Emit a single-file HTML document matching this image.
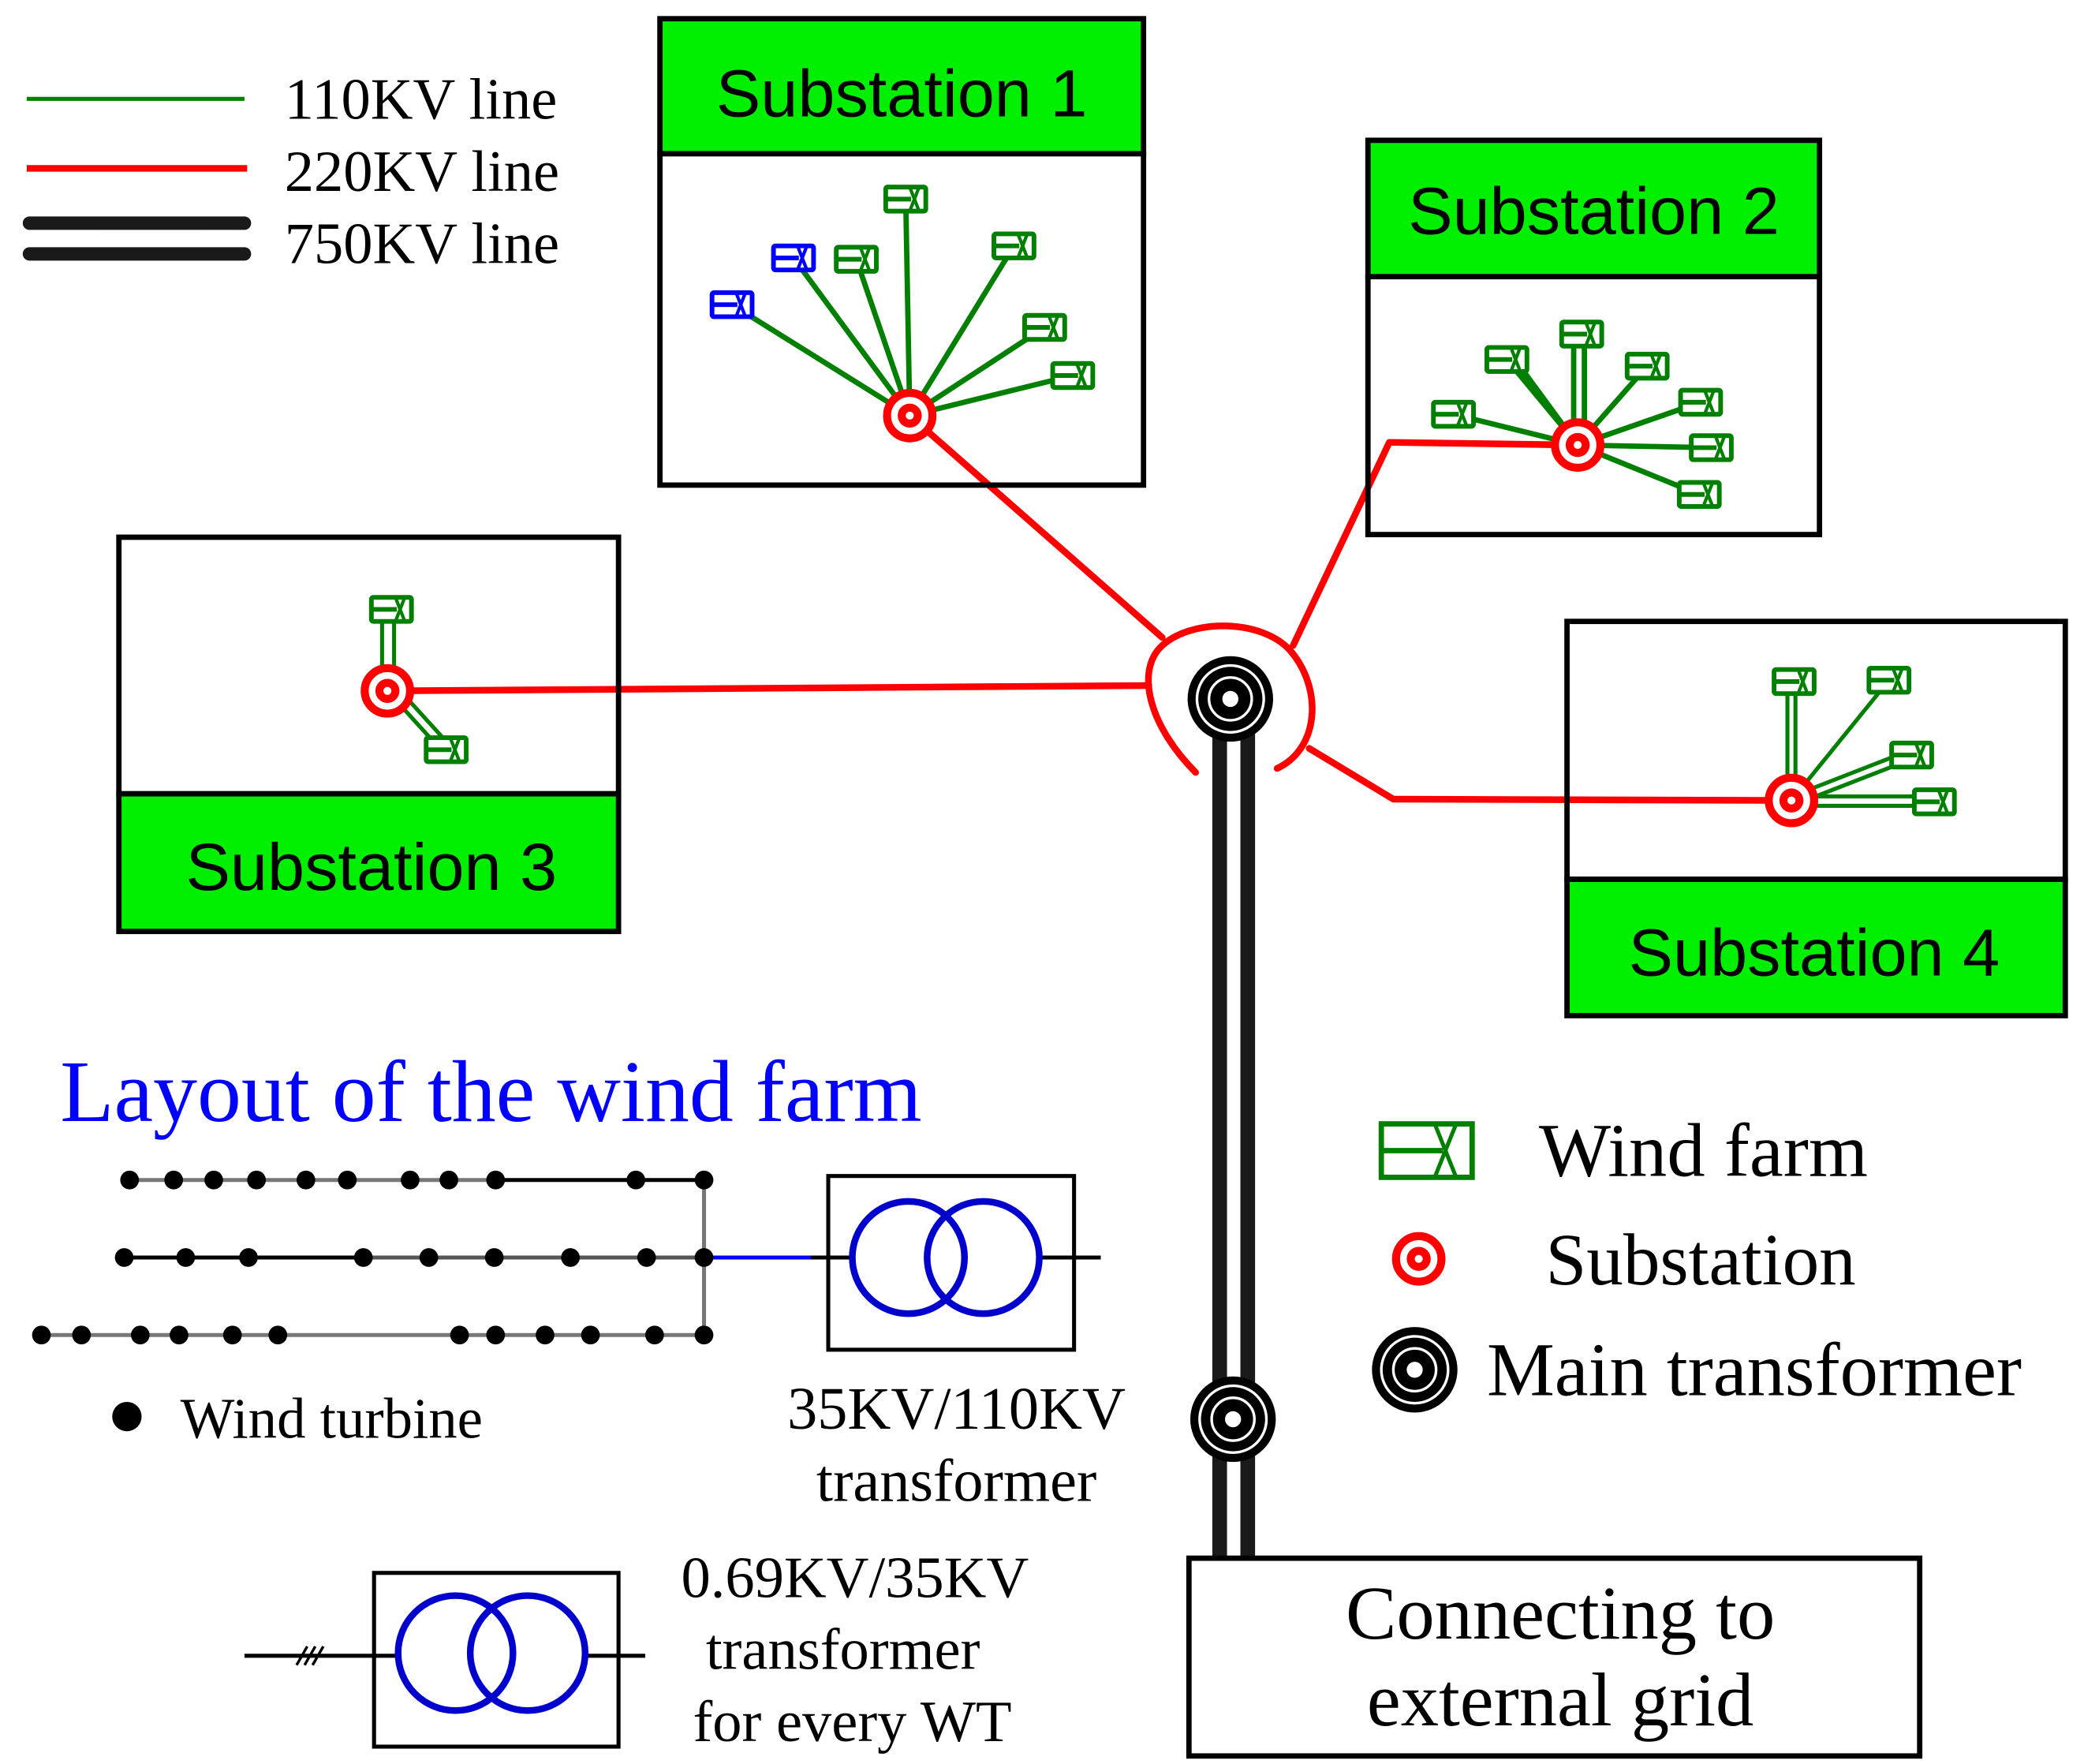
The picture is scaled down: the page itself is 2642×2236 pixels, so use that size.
<!DOCTYPE html>
<html><head><meta charset="utf-8"><style>
html,body{margin:0;padding:0;background:#fff;}
svg{display:block;}
.serif{font-family:"Liberation Serif",serif;}
.sans{font-family:"Liberation Sans",sans-serif;}
</style></head><body>
<svg width="2642" height="2236" viewBox="0 0 1560 1320" preserveAspectRatio="none" xmlns="http://www.w3.org/2000/svg">
<defs>
<g id="wf">
  <rect x="-15" y="-9" width="30" height="18" fill="#fff" stroke="#007f00" stroke-width="3.5" rx="1.5"/>
  <line x1="-15" y1="0" x2="4" y2="0" stroke="#007f00" stroke-width="3.5"/>
  <line x1="3" y1="-9" x2="10" y2="9" stroke="#007f00" stroke-width="2.5"/>
  <line x1="10" y1="-9" x2="3" y2="9" stroke="#007f00" stroke-width="2.5"/>
</g>
<g id="wfb">
  <rect x="-15" y="-9" width="30" height="18" fill="#fff" stroke="#0000ff" stroke-width="3.5" rx="1.5"/>
  <line x1="-15" y1="0" x2="4" y2="0" stroke="#0000ff" stroke-width="3.5"/>
  <line x1="3" y1="-9" x2="10" y2="9" stroke="#0000ff" stroke-width="2.5"/>
  <line x1="10" y1="-9" x2="3" y2="9" stroke="#0000ff" stroke-width="2.5"/>
</g>
<g id="sub">
  <circle r="17" fill="#fff" stroke="#ff0000" stroke-width="6"/>
  <circle r="9" fill="#ff0000"/>
  <circle r="3" fill="#fff"/>
</g>
<g id="mt">
  <circle r="32" fill="#000"/>
  <circle r="25" fill="none" stroke="#fff" stroke-width="2"/>
  <circle r="16" fill="none" stroke="#fff" stroke-width="2"/>
  <circle r="6" fill="#fff"/>
</g>
</defs>

<!-- legend -->
<line x1="20" y1="74" x2="183" y2="74" stroke="#007f00" stroke-width="3"/>
<line x1="20" y1="126" x2="185" y2="126" stroke="#ff0000" stroke-width="5"/>
<line x1="22" y1="167" x2="183" y2="167" stroke="#1a1a1a" stroke-width="10" stroke-linecap="round"/>
<line x1="22" y1="190" x2="183" y2="190" stroke="#1a1a1a" stroke-width="10" stroke-linecap="round"/>
<g class="serif" font-size="44" fill="#000">
<text x="213" y="89">110KV line</text>
<text x="213" y="143">220KV line</text>
<text x="213" y="197">750KV line</text>
</g>

<!-- 750 kV lines -->
<line x1="913" y1="545" x2="913" y2="1166" stroke="#1a1a1a" stroke-width="11"/>
<line x1="934" y1="545" x2="934" y2="1166" stroke="#1a1a1a" stroke-width="11"/>

<!-- red lines -->
<g stroke="#ff0000" stroke-width="5" fill="none" stroke-linecap="round" stroke-linejoin="round">
<line x1="681" y1="311" x2="870" y2="477"/>
<polyline points="1181,333 1040,331 968,483"/>
<line x1="290" y1="517" x2="860" y2="513"/>
<polyline points="1341,599 1043,598 980,560"/>
<path d="M895,578 C862,545 850,505 868,485 C890,462 945,463 966,487 C990,515 988,560 956,575"/>
</g>

<!-- Substation 1 -->
<rect x="494" y="115" width="362" height="248" fill="none" stroke="#000" stroke-width="4"/>
<rect x="494" y="14" width="362" height="101" fill="#00ee00" stroke="#000" stroke-width="4"/>
<text x="675" y="87" class="sans" font-size="50" text-anchor="middle">Substation 1</text>
<g stroke="#007f00" stroke-width="4">
<line x1="681" y1="311" x2="548" y2="228"/><line x1="681" y1="311" x2="594" y2="193"/>
<line x1="681" y1="311" x2="641" y2="194"/><line x1="681" y1="311" x2="678" y2="149"/>
<line x1="681" y1="311" x2="759" y2="184"/><line x1="681" y1="311" x2="782" y2="245"/>
<line x1="681" y1="311" x2="803" y2="281"/>
</g>
<use href="#wfb" x="548" y="228"/><use href="#wfb" x="594" y="193"/>
<use href="#wf" x="641" y="194"/><use href="#wf" x="678" y="149"/>
<use href="#wf" x="759" y="184"/><use href="#wf" x="782" y="245"/><use href="#wf" x="803" y="281"/>
<use href="#sub" x="681" y="311"/>

<!-- Substation 2 -->
<rect x="1024" y="207" width="338" height="193" fill="none" stroke="#000" stroke-width="4"/>
<rect x="1024" y="105" width="338" height="102" fill="#00ee00" stroke="#000" stroke-width="4"/>
<text x="1193" y="175" class="sans" font-size="50" text-anchor="middle">Substation 2</text>
<g stroke="#007f00" stroke-width="4">
<line x1="1181" y1="333" x2="1088" y2="310"/><line x1="1181" y1="333" x2="1128" y2="269"/>
<line x1="1181" y1="333" x2="1134" y2="269"/>
<line x1="1178" y1="333" x2="1178" y2="250"/><line x1="1186" y1="333" x2="1186" y2="250"/>
<line x1="1181" y1="333" x2="1233" y2="274"/><line x1="1181" y1="333" x2="1273" y2="301"/>
<line x1="1181" y1="333" x2="1281" y2="335"/><line x1="1181" y1="333" x2="1272" y2="370"/>
</g>
<use href="#wf" x="1088" y="310"/><use href="#wf" x="1128" y="269"/><use href="#wf" x="1184" y="250"/>
<use href="#wf" x="1233" y="274"/><use href="#wf" x="1273" y="301"/><use href="#wf" x="1281" y="335"/>
<use href="#wf" x="1272" y="370"/>
<use href="#sub" x="1181" y="333"/>

<!-- Substation 3 -->
<rect x="89" y="402" width="374" height="192" fill="none" stroke="#000" stroke-width="4"/>
<rect x="89" y="594" width="374" height="103" fill="#00ee00" stroke="#000" stroke-width="4"/>
<text x="278" y="666" class="sans" font-size="50" text-anchor="middle">Substation 3</text>
<g stroke="#007f00" stroke-width="3">
<line x1="286" y1="517" x2="286" y2="456"/><line x1="295" y1="517" x2="295" y2="456"/>
<line x1="290" y1="517" x2="330" y2="561"/><line x1="296" y1="513" x2="336" y2="557"/>
</g>
<use href="#wf" x="293" y="456"/><use href="#wf" x="334" y="561"/>
<use href="#sub" x="290" y="517"/>

<!-- Substation 4 -->
<rect x="1173" y="465" width="373" height="193" fill="none" stroke="#000" stroke-width="4"/>
<rect x="1173" y="658" width="373" height="102" fill="#00ee00" stroke="#000" stroke-width="4"/>
<text x="1358" y="730" class="sans" font-size="50" text-anchor="middle">Substation 4</text>
<g stroke="#007f00" stroke-width="3">
<line x1="1338" y1="599" x2="1338" y2="510"/><line x1="1344" y1="599" x2="1344" y2="510"/>
<line x1="1341" y1="599" x2="1414" y2="509"/>
<line x1="1341" y1="596" x2="1431" y2="561"/><line x1="1341" y1="603" x2="1431" y2="568"/>
<line x1="1341" y1="596" x2="1448" y2="596"/><line x1="1341" y1="603" x2="1448" y2="603"/>
</g>
<use href="#wf" x="1343" y="510"/><use href="#wf" x="1414" y="509"/>
<use href="#wf" x="1431" y="565"/><use href="#wf" x="1448" y="600"/>
<use href="#sub" x="1341" y="599"/>

<!-- main transformers -->
<use href="#mt" x="921" y="523"/>
<use href="#mt" x="923" y="1062"/>

<!-- wind farm layout -->
<text x="45" y="839" class="serif" font-size="66" fill="#0000ff">Layout of the wind farm</text>
<g stroke-width="3">
<line x1="97" y1="883" x2="371" y2="883" stroke="#777"/>
<line x1="371" y1="883" x2="527" y2="883" stroke="#000"/>
<line x1="93" y1="941" x2="272" y2="941" stroke="#000"/>
<line x1="272" y1="941" x2="527" y2="941" stroke="#555"/>
<line x1="31" y1="999" x2="527" y2="999" stroke="#777"/>
<line x1="527" y1="883" x2="527" y2="999" stroke="#777"/>
<line x1="527" y1="941" x2="607" y2="941" stroke="#0000ff"/>
<line x1="607" y1="941" x2="640" y2="941" stroke="#000"/>
<line x1="778" y1="941" x2="824" y2="941" stroke="#000"/>
</g>
<g fill="#000">
<circle cx="97" cy="883" r="7"/><circle cx="130" cy="883" r="7"/><circle cx="160" cy="883" r="7"/><circle cx="192" cy="883" r="7"/><circle cx="229" cy="883" r="7"/><circle cx="260" cy="883" r="7"/><circle cx="307" cy="883" r="7"/><circle cx="336" cy="883" r="7"/><circle cx="371" cy="883" r="7"/><circle cx="476" cy="883" r="7"/><circle cx="527" cy="883" r="7"/>
<circle cx="93" cy="941" r="7"/><circle cx="139" cy="941" r="7"/><circle cx="186" cy="941" r="7"/><circle cx="272" cy="941" r="7"/><circle cx="321" cy="941" r="7"/><circle cx="370" cy="941" r="7"/><circle cx="427" cy="941" r="7"/><circle cx="484" cy="941" r="7"/><circle cx="527" cy="941" r="7"/>
<circle cx="31" cy="999" r="7"/><circle cx="61" cy="999" r="7"/><circle cx="105" cy="999" r="7"/><circle cx="134" cy="999" r="7"/><circle cx="174" cy="999" r="7"/><circle cx="208" cy="999" r="7"/><circle cx="344" cy="999" r="7"/><circle cx="371" cy="999" r="7"/><circle cx="408" cy="999" r="7"/><circle cx="442" cy="999" r="7"/><circle cx="490" cy="999" r="7"/><circle cx="527" cy="999" r="7"/>
<circle cx="95" cy="1060" r="11"/>
</g>
<text x="135" y="1076" class="serif" font-size="43">Wind turbine</text>

<rect x="620" y="880" width="184" height="130" fill="none" stroke="#000" stroke-width="3"/>
<circle cx="680" cy="941" r="42" fill="none" stroke="#0000cc" stroke-width="5"/>
<circle cx="736" cy="941" r="42" fill="none" stroke="#0000cc" stroke-width="5"/>
<g class="serif" font-size="45" text-anchor="middle">
<text x="716" y="1069">35KV/110KV</text>
<text x="716" y="1123">transformer</text>
</g>

<line x1="183" y1="1239" x2="300" y2="1239" stroke="#000" stroke-width="3"/>
<g stroke="#000" stroke-width="2">
<line x1="222" y1="1246" x2="230" y2="1232"/><line x1="228" y1="1246" x2="236" y2="1232"/><line x1="234" y1="1246" x2="242" y2="1232"/>
</g>
<line x1="437" y1="1239" x2="483" y2="1239" stroke="#000" stroke-width="3"/>
<rect x="280" y="1177" width="183" height="130" fill="none" stroke="#000" stroke-width="3"/>
<circle cx="341" cy="1237" r="43" fill="none" stroke="#0000cc" stroke-width="5"/>
<circle cx="395" cy="1237" r="43" fill="none" stroke="#0000cc" stroke-width="5"/>
<g class="serif" font-size="44" text-anchor="middle">
<text x="640" y="1195">0.69KV/35KV</text>
<text x="631" y="1249">transformer</text>
<text x="638" y="1303">for every WT</text>
</g>

<!-- external grid -->
<rect x="890" y="1166" width="547" height="148" fill="#fff" stroke="#000" stroke-width="4"/>
<g class="serif" font-size="57" text-anchor="middle">
<text x="1168" y="1226">Connecting to</text>
<text x="1168" y="1291">external grid</text>
</g>

<!-- right legend -->
<g stroke="#007f00" stroke-width="4" fill="none">
<rect x="1034" y="841" width="68" height="40"/>
<line x1="1034" y1="861" x2="1080" y2="861"/>
<line x1="1074" y1="841" x2="1090" y2="881" stroke-width="3"/>
<line x1="1090" y1="841" x2="1074" y2="881" stroke-width="3"/>
</g>
<text x="1152" y="880" class="serif" font-size="57">Wind farm</text>
<use href="#sub" x="1062" y="942"/>
<text x="1157" y="961" class="serif" font-size="55">Substation</text>
<use href="#mt" x="1059" y="1025"/>
<text x="1113" y="1044" class="serif" font-size="57">Main transformer</text>
</svg>
</body></html>
